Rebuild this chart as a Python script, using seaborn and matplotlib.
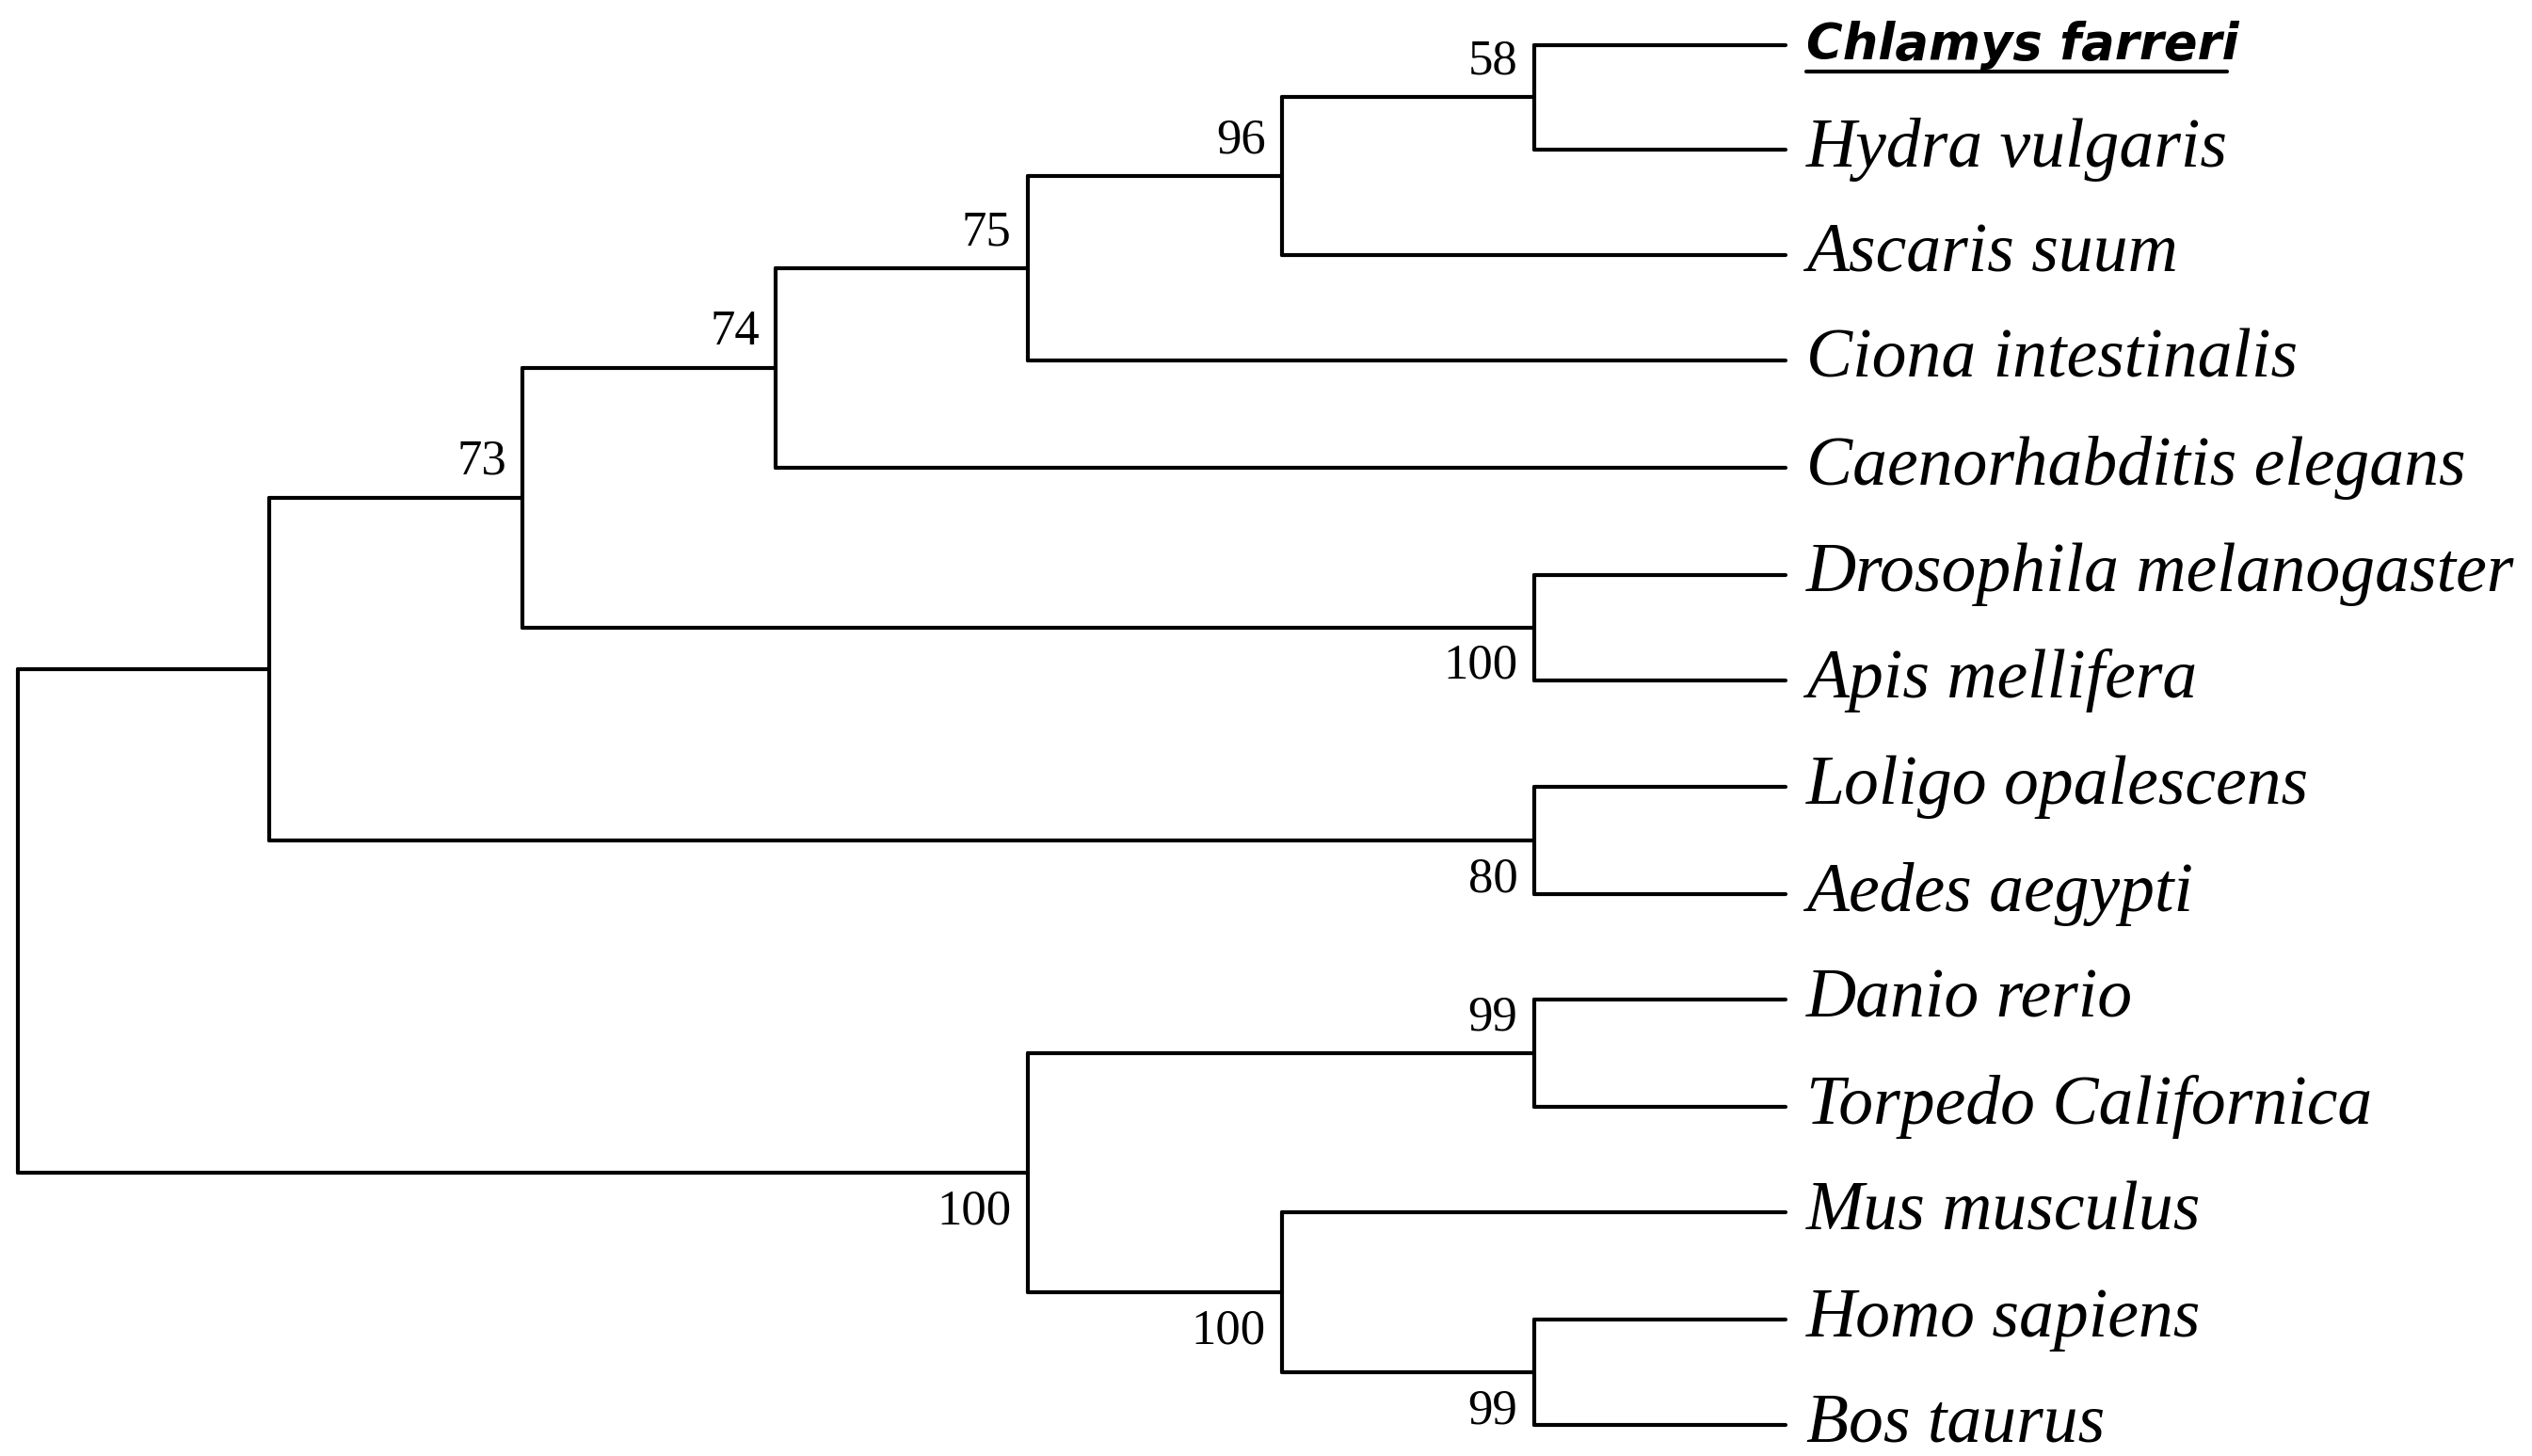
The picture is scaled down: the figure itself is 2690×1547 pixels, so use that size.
import pandas as pd
import matplotlib.pyplot as plt
import seaborn as sns

# leaves, top to bottom
leaves = ["Chlamys farreri", "Hydra vulgaris", "Ascaris suum", "Ciona intestinalis",
          "Caenorhabditis elegans", "Drosophila melanogaster", "Apis mellifera",
          "Loligo opalescens", "Aedes aegypti", "Danio rerio", "Torpedo Californica",
          "Mus musculus", "Homo sapiens", "Bos taurus"]
leaf_y = [28, 92, 157, 222, 288, 354, 419, 485, 551, 616, 682, 747, 813, 878]
leaf_x = 1100

# internal nodes: name, x, children, bootstrap, label side
node_names = ["n58", "n96", "n75", "n74", "n100a", "n73", "n80", "nA",
              "n99a", "n99b", "n100c", "n100b", "root"]
node_x = [945, 790, 633, 478, 945, 322, 945, 166, 945, 945, 790, 633, 11]
node_children = [(0, 1), ("n58", 2), ("n96", 3), ("n75", 4), (5, 6), ("n74", "n100a"),
                 (7, 8), ("n73", "n80"), (9, 10), (12, 13), (11, "n99b"),
                 ("n99a", "n100c"), ("nA", "n100b")]
support = ["58", "96", "75", "74", "100", "73", "80", "", "99", "99", "100", "100", ""]
support_side = ["up", "up", "up", "up", "down", "up", "down", "", "up", "down",
                "down", "down", ""]

pos = {i: (leaf_x, y) for i, y in enumerate(leaf_y)}
rows = []
seg = 0
for name, x, ch in zip(node_names, node_x, node_children):
    ys = [pos[c][1] for c in ch]
    y = sum(ys) / 2
    pos[name] = (x, y)
    rows += [(seg, x, ys[0]), (seg, x, ys[1])]
    seg += 1
    for c in ch:
        cx, cy = pos[c]
        rows += [(seg, x, cy), (seg, cx, cy)]
        seg += 1
df = pd.DataFrame(rows, columns=["seg", "x", "y"])

sns.set_style("white")
fig = plt.figure(figsize=(26.9, 15.47), dpi=100)
ax = fig.add_axes([0, 0, 1, 1])
sns.lineplot(data=df, x="x", y="y", units="seg", estimator=None, sort=False,
             color="black", linewidth=3, ax=ax)
ax.set_xlim(0, 1560)
ax.set_ylim(897, 0)
ax.axis("off")

for i, (lab, y) in enumerate(zip(leaves, leaf_y)):
    if i == 0:
        ax.text(1113, y, lab, fontsize=38, fontweight="bold", fontstyle="italic",
                family="DejaVu Sans", va="center", ha="left", color="black")
        ax.plot([1113, 1372], [44, 44], color="black", linewidth=3)
    else:
        ax.text(1113, y, lab, fontsize=53, fontstyle="italic",
                family="Liberation Serif", va="center", ha="left", color="black")

for name, s, side in zip(node_names, support, support_side):
    if not s:
        continue
    x, y = pos[name]
    if side == "up":
        ax.text(x - 10, y - 8, s, fontsize=38, family="Liberation Serif",
                ha="right", va="bottom", color="black")
    else:
        ax.text(x - 10, y + 10, s, fontsize=38, family="Liberation Serif",
                ha="right", va="top", color="black")

fig.savefig("out.png", dpi=100)
